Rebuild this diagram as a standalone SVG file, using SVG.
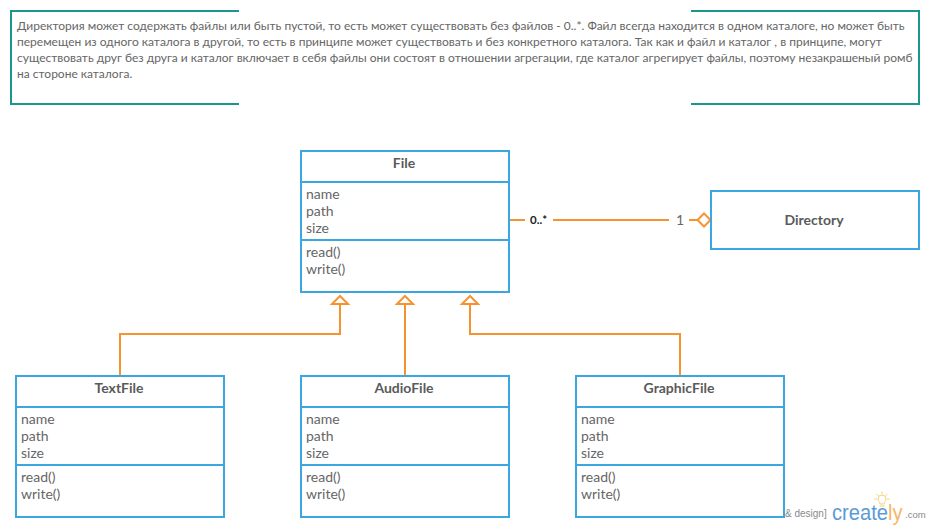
<svg xmlns="http://www.w3.org/2000/svg" width="930" height="529" viewBox="0 0 930 529">
<style>
text{font-family:"Lato","Noto Sans",sans-serif;fill:#666}
.t{font-size:14px;font-weight:700;text-anchor:middle;fill:#5a5a5a}
.m{font-size:14px}
.n{font-size:12px}
.b{fill:#fff;stroke:#3aa7e0;stroke-width:2}
.d{fill:none;stroke:#3aa7e0;stroke-width:2}
.c{fill:none;stroke:#f59331;stroke-width:2}
.h{fill:#fff;stroke:#f59331;stroke-width:2}
.w{font-family:"Liberation Sans",sans-serif}
</style>
<g id="watermark">
<text class="w" x="785" y="517" font-size="10" style="fill:#8a8a8a">&amp; design]</text>
<text class="w" x="832" y="520" font-size="22" textLength="70.500" lengthAdjust="spacingAndGlyphs" style="fill:#5b9bd5">create<tspan style="fill:#f5b76b">ly</tspan></text>
<text class="w" x="905" y="518" font-size="9.5" style="fill:#8a8a8a">.com</text>
<g fill="none" stroke="#f8cf7a" stroke-width="1"><path d="M879.500 506h5M880 504c0-2-2-3-2-5a4 4 0 0 1 8 0c0 2-2 3-2 5z"/><path d="M882 491.500v2.500M874.500 499h2.500M887 499h2.500M876.500 494l1.800 1.800M887.500 494l-1.800 1.800"/></g>
</g>
<g id="note">
<path d="M239 11H11V104H239M691 11H919V104H691" fill="none" stroke="#1a968c" stroke-width="2"/>
<text class="n" x="17" y="30">Директория может содержать файлы или быть пустой, то есть может существовать без файлов - 0..*. Файл всегда находится в одном каталоге, но может быть</text>
<text class="n" x="17" y="46">перемещен из одного каталога в другой, то есть в принципе может существовать и без конкретного каталога. Так как и файл и каталог , в принципе, могут</text>
<text class="n" x="17" y="62">существовать друг без друга и каталог включает в себя файлы они состоят в отношении агрегации, где каталог агрегирует файлы, поэтому незакрашеный ромб</text>
<text class="n" x="17" y="78">на стороне каталога.</text>
</g>
<g id="connectors">
<path class="c" d="M120 375V334H340V304"/>
<path class="c" d="M405 375V304"/>
<path class="c" d="M680 375V334H470V304"/>
<path class="h" d="M340 296L348 304H332Z"/>
<path class="h" d="M405 296L413 304H397Z"/>
<path class="h" d="M470 296L478 304H462Z"/>
<path class="c" d="M510 220H525M553 220H669M689 220H697"/>
<path class="h" d="M697.500 220L704 213.500L710.500 220L704 226.500Z"/>
<text x="530" y="224" font-size="11.500" style="fill:#222;font-weight:700">0..*</text>
<text x="680" y="225" font-size="14" text-anchor="middle">1</text>
</g>
<g id="file">
<rect class="b" x="301" y="151" width="208" height="141"/>
<path class="d" d="M301 182H509M301 240H509"/>
<text class="t" x="404" y="168">File</text>
<text class="m" x="306" y="199">name</text><text class="m" x="306" y="216">path</text><text class="m" x="306" y="233">size</text>
<text class="m" x="306" y="257">read()</text><text class="m" x="306" y="274">write()</text>
</g>
<g id="directory">
<rect class="b" x="711" y="191" width="208" height="58"/>
<text class="t" x="814" y="225">Directory</text>
</g>
<g id="textfile">
<rect class="b" x="16" y="376" width="208" height="141"/>
<path class="d" d="M16 407H224M16 465H224"/>
<text class="t" x="119" y="393">TextFile</text>
<text class="m" x="21" y="424">name</text><text class="m" x="21" y="441">path</text><text class="m" x="21" y="458">size</text>
<text class="m" x="21" y="482">read()</text><text class="m" x="21" y="499">write()</text>
</g>
<g id="audiofile">
<rect class="b" x="301" y="376" width="208" height="141"/>
<path class="d" d="M301 407H509M301 465H509"/>
<text class="t" x="404" y="393">AudioFile</text>
<text class="m" x="306" y="424">name</text><text class="m" x="306" y="441">path</text><text class="m" x="306" y="458">size</text>
<text class="m" x="306" y="482">read()</text><text class="m" x="306" y="499">write()</text>
</g>
<g id="graphicfile">
<rect class="b" x="576" y="376" width="208" height="141"/>
<path class="d" d="M576 407H784M576 465H784"/>
<text class="t" x="679" y="393">GraphicFile</text>
<text class="m" x="581" y="424">name</text><text class="m" x="581" y="441">path</text><text class="m" x="581" y="458">size</text>
<text class="m" x="581" y="482">read()</text><text class="m" x="581" y="499">write()</text>
</g>
</svg>
